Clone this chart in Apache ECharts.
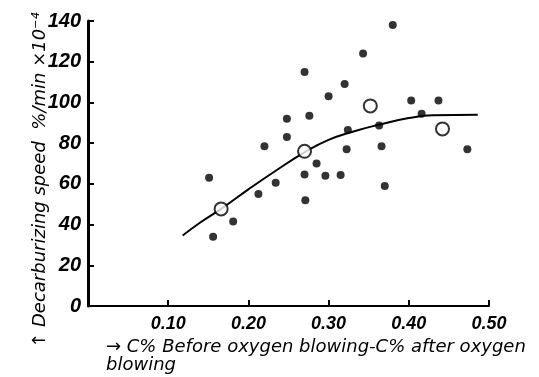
<!DOCTYPE html>
<html>
<head>
<meta charset="utf-8">
<script src="https://cdn.jsdelivr.net/npm/echarts@6/dist/echarts.min.js"></script>
<style>html,body{margin:0;padding:0;background:#fff}#c{width:539px;height:377px}</style>
</head>
<body>
<div id="c"></div>
<script>
// Filled points (individual heats)
var filledX = [0.27,0.248,0.38,0.343,0.32,0.30,0.403,0.437,0.276,0.416,0.324,0.363,0.248,0.22,0.3225,0.366,0.473,0.151,0.285,0.27,0.296,0.315,0.37,0.234,0.2125,0.271,0.181,0.156];
var filledY = [115,92,138,124,109,103,101,101,93.5,94.4,86.4,88.7,83,78.5,77,78.5,77,63,70,64.6,64,64.4,59,60.5,55,52,41.5,34];
// Open circles (averages)
var openX = [0.166,0.27,0.352,0.442];
var openY = [47.7,76,98.3,87];
// Fitted curve
var curveX = [0.118,0.14,0.166,0.20,0.235,0.27,0.30,0.33,0.36,0.40,0.43,0.486];
var curveY = [34.6,41,47.7,57.3,66.7,75.5,81.6,85.6,88.8,92.3,93.7,94];
// Axis ticks
var xTicks = ['0.10','0.20','0.30','0.40','0.50'];
var yTitle = '\u2191 Decarburizing speed  %/min \u00d710\u207b\u2074';
var xTitle = '\u2192 C% Before oxygen blowing-C% after oxygen\nblowing';

function zip(a,b){return a.map(function(v,i){return [v,b[i]];});}

var chart = echarts.init(document.getElementById('c'));
var fam = '"Liberation Sans Narrow", "Liberation Sans", sans-serif';
chart.setOption({
  animation:false,
  backgroundColor:'#fff',
  grid:{left:88,right:50,top:21,bottom:71},
  xAxis:{type:'value',min:0,max:0.5,interval:0.1,
    axisLine:{lineStyle:{color:'#000',width:2}},
    axisTick:{inside:true,length:6,lineStyle:{color:'#000',width:2}},
    splitLine:{show:false},
    axisLabel:{margin:9,fontStyle:'italic',fontWeight:'bold',fontSize:18,color:'#000',fontFamily:fam,
      formatter:function(v){var s=v.toFixed(2);return xTicks.indexOf(s)>=0?s:'';}}
  },
  yAxis:{type:'value',min:0,max:140,interval:20,
    axisLine:{lineStyle:{color:'#000',width:3}},
    axisTick:{inside:true,length:6,lineStyle:{color:'#000',width:2}},
    splitLine:{show:false},
    axisLabel:{margin:7,fontStyle:'italic',fontWeight:'bold',fontSize:20,color:'#000',fontFamily:fam}
  },
  series:[
    {type:'line',data:zip(curveX,curveY),smooth:0.5,showSymbol:false,lineStyle:{color:'#000',width:2},z:2},
    {type:'scatter',data:zip(filledX,filledY),symbol:'circle',symbolSize:8,itemStyle:{color:'#000'},z:3},
    {type:'scatter',data:zip(openX,openY),symbol:'circle',symbolSize:13,itemStyle:{color:'#fff',borderColor:'#000',borderWidth:2},z:4}
  ],
  graphic:[
    {type:'text',x:40,y:180,rotation:Math.PI/2,style:{text:yTitle,textAlign:'center',textVerticalAlign:'middle',font:'italic 18px "DejaVu Sans"',fill:'#000'}},
    {type:'text',x:106,y:338,style:{text:xTitle,textAlign:'left',textVerticalAlign:'top',font:'italic 18px "DejaVu Sans"',lineHeight:18,fill:'#000'}}
  ]
});
</script>
</body>
</html>
